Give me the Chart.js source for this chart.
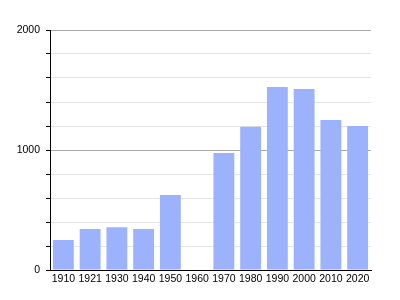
<!DOCTYPE html>
<html>
<head>
<meta charset="utf-8">
<script src="https://cdn.jsdelivr.net/npm/chart.js@4/dist/chart.umd.min.js"></script>
<style>
  html, body { margin: 0; padding: 0; background: #fff; }
  #wrap { width: 400px; height: 300px; }
</style>
</head>
<body>
<div id="wrap"><canvas id="chart"></canvas></div>
<script>
// Data
const years = ['1910', '1921', '1930', '1940', '1950', '1960', '1970', '1980', '1990', '2000', '2010', '2020'];
const population = [250, 342, 357, 342, 625, null, 975, 1193, 1525, 1508, 1250, 1200];
const yLabels = [0, 1000, 2000];

const ctx = document.getElementById('chart').getContext('2d');
new Chart(ctx, {
  type: 'bar',
  data: {
    labels: years,
    datasets: [{
      data: population,
      backgroundColor: '#9db2fc',
      borderWidth: 0,
      categoryPercentage: 1,
      barPercentage: 0.78
    }]
  },
  options: {
    responsive: true,
    maintainAspectRatio: false,
    animation: false,
    layout: { padding: { top: 30, right: 29, left: 0, bottom: 0 } },
    plugins: { legend: { display: false }, tooltip: { enabled: false } },
    scales: {
      x: {
        grid: { display: false, drawTicks: false },
        border: { color: '#000', width: 1 },
        ticks: { color: '#000', font: { family: 'Liberation Sans', size: 10.5 }, padding: 3, maxRotation: 0, autoSkip: false },
        afterFit: s => { s.height = 30; }
      },
      y: {
        min: 0,
        max: 2000,
        border: { color: '#000', width: 1 },
        ticks: {
          stepSize: 200,
          color: '#000',
          font: { family: 'Liberation Sans', size: 10.5 },
          padding: 6,
          callback: v => yLabels.includes(v) ? String(v) : ''
        },
        grid: {
          color: c => (c.tick && c.tick.value % 1000 === 0) ? '#aaaaaa' : '#e6e6e6',
          tickColor: '#000',
          tickLength: 4
        },
        afterFit: s => { s.width = 50; }
      }
    }
  }
});
</script>
</body>
</html>
